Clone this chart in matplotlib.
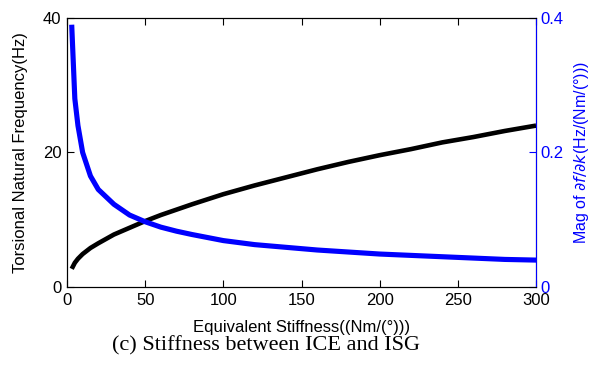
import matplotlib
matplotlib.use("Agg")
import matplotlib.pyplot as plt

# Data
stiffness = [3, 5, 7, 10, 15, 20, 30, 40, 50, 60, 70, 80, 100, 120, 140, 160,
             180, 200, 220, 240, 260, 280, 300]
freq = [2.7, 3.6, 4.2, 4.9, 5.8, 6.5, 7.8, 8.8, 9.8, 10.7, 11.5, 12.3, 13.8,
        15.1, 16.3, 17.5, 18.6, 19.6, 20.5, 21.5, 22.3, 23.2, 24.0]
sens = [0.39, 0.28, 0.24, 0.20, 0.165, 0.145, 0.123, 0.107, 0.097, 0.089,
        0.083, 0.078, 0.069, 0.063, 0.059, 0.055, 0.052, 0.049, 0.047, 0.045,
        0.043, 0.041, 0.040]
x_ticks = [0, 50, 100, 150, 200, 250, 300]
yl_ticks = [0, 20, 40]
yr_ticks = [0, 0.2, 0.4]

plt.rcParams['font.family'] = ['Liberation Sans', 'DejaVu Sans']

fig = plt.figure(figsize=(5.93, 3.67), dpi=100)
ax = fig.add_axes([0.113, 0.218, 0.791, 0.733])
ax.plot(stiffness, freq, color='black', lw=3.3, solid_capstyle='butt')
ax.set_xlim(0, 300)
ax.set_ylim(0, 40)
ax.set_xticks(x_ticks)
ax.set_yticks(yl_ticks)
ax.tick_params(direction='in', labelsize=12, length=5, top=True, pad=4)
ax.set_xlabel('Equivalent Stiffness((Nm/(°)))', fontsize=12, labelpad=9)
ax.set_ylabel('Torsional Natural Frequency(Hz)', fontsize=12, labelpad=11)

ax2 = ax.twinx()
ax2.plot(stiffness, sens, color='#0000ff', lw=3.7, solid_capstyle='butt')
ax2.set_ylim(0, 0.4)
ax2.set_yticks(yr_ticks)
ax2.set_yticklabels(['0', '0.2', '0.4'])
ax2.tick_params(direction='in', labelsize=12, length=5, colors='#0000ff', pad=3)
ax2.spines['right'].set_color('#0000ff')
ax2.set_ylabel(r'Mag of $\partial f/\partial k$(Hz/(Nm/(°)))', fontsize=11.5,
               color='#0000ff', labelpad=6)

fig.text(0.448, 0.045, '(c) Stiffness between ICE and ISG', ha='center',
         va='baseline', fontsize=16, family='Liberation Serif')

fig.savefig('out.png', dpi=100)
